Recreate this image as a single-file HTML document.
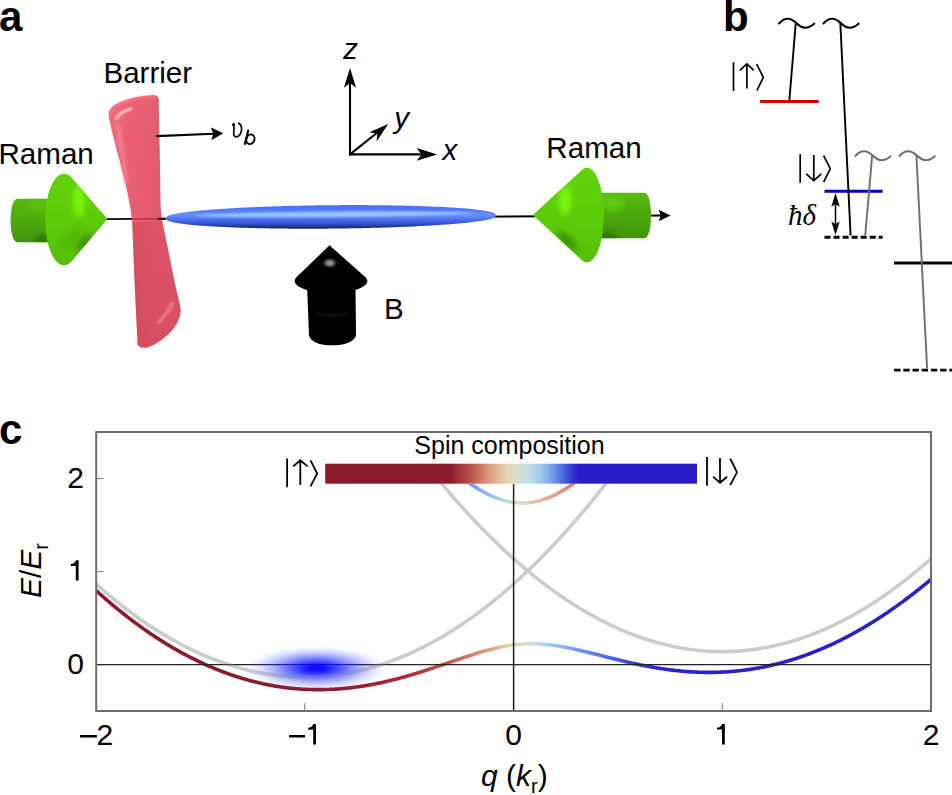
<!DOCTYPE html>
<html><head><meta charset="utf-8"><title>Figure</title>
<style>
html,body{margin:0;padding:0;background:#fff;}
body{width:952px;height:795px;overflow:hidden;}
svg{display:block;}
text{font-family:"Liberation Sans",sans-serif;fill:#000;}
.it{font-style:italic;}
.bd{font-weight:bold;}
</style></head>
<body>
<svg width="952" height="795" viewBox="0 0 952 795">
<defs>
<linearGradient id="gCylL" x1="0" y1="0" x2="0" y2="1">
<stop offset="0" stop-color="#58b810"/>
<stop offset="0.35" stop-color="#52b00e"/>
<stop offset="0.75" stop-color="#47a00c"/>
<stop offset="1" stop-color="#3e900a"/>
</linearGradient>
<linearGradient id="gCylR" x1="0" y1="0" x2="0" y2="1">
<stop offset="0" stop-color="#58bc10"/>
<stop offset="0.35" stop-color="#50ae0e"/>
<stop offset="0.75" stop-color="#46a00c"/>
<stop offset="1" stop-color="#3e900a"/>
</linearGradient>
<linearGradient id="gConeL" x1="0" y1="0" x2="0" y2="1">
<stop offset="0" stop-color="#62d20a"/>
<stop offset="0.5" stop-color="#5ccc08"/>
<stop offset="1" stop-color="#56c008"/>
</linearGradient>
<linearGradient id="gConeR" x1="0" y1="0" x2="0" y2="1">
<stop offset="0" stop-color="#62d20a"/>
<stop offset="0.5" stop-color="#5ccc08"/>
<stop offset="1" stop-color="#56c008"/>
</linearGradient>
<linearGradient id="gBar1" x1="0" y1="0" x2="1" y2="0">
<stop offset="0" stop-color="#ee6676"/>
<stop offset="0.35" stop-color="#e65a6c"/>
<stop offset="1" stop-color="#de5266"/>
</linearGradient>
<linearGradient id="gBar3" gradientUnits="userSpaceOnUse" x1="132" y1="0" x2="182" y2="0">
<stop offset="0" stop-color="#a02038" stop-opacity="0.24"/>
<stop offset="0.45" stop-color="#b02840" stop-opacity="0.1"/>
<stop offset="1" stop-color="#b02840" stop-opacity="0.04"/>
</linearGradient>
<linearGradient id="gBar2" x1="0" y1="0" x2="0" y2="1">
<stop offset="0" stop-color="#ff7080" stop-opacity="0.15"/>
<stop offset="0.4" stop-color="#e05068" stop-opacity="0"/>
<stop offset="0.6" stop-color="#c83850" stop-opacity="0.08"/>
<stop offset="1" stop-color="#c03048" stop-opacity="0.22"/>
</linearGradient>
<linearGradient id="gBEC" x1="0" y1="0" x2="0" y2="1">
<stop offset="0" stop-color="#4a72f8"/>
<stop offset="0.15" stop-color="#4c74f6"/>
<stop offset="0.3" stop-color="#5a84f8"/>
<stop offset="0.4" stop-color="#6890fa"/>
<stop offset="0.5" stop-color="#5c84f6"/>
<stop offset="0.62" stop-color="#4a6ef2"/>
<stop offset="0.74" stop-color="#3a5ad8"/>
<stop offset="0.85" stop-color="#2a44b0"/>
<stop offset="0.95" stop-color="#1c2a78"/>
<stop offset="1" stop-color="#1a2870"/>
</linearGradient>
<radialGradient id="gHl" cx="0.5" cy="0.5" r="0.5">
<stop offset="0" stop-color="#a0a0a0"/>
<stop offset="0.35" stop-color="#808080"/>
<stop offset="0.7" stop-color="#303030"/>
<stop offset="1" stop-color="#000000"/>
</radialGradient>
<filter id="fBlur1" x="-50%" y="-50%" width="200%" height="200%"><feGaussianBlur stdDeviation="0.8"/></filter>
<filter id="fBlur2" x="-50%" y="-50%" width="200%" height="200%"><feGaussianBlur stdDeviation="1.6"/></filter>
<filter id="fBlur3" x="-80%" y="-80%" width="260%" height="260%"><feGaussianBlur stdDeviation="3"/></filter>
<clipPath id="cpConeL"><path d="M107.60,219.10 L72.34,260.83 L70.53,262.70 L68.65,264.10 L66.72,265.03 L64.76,265.46 L62.79,265.41 L60.83,264.86 L58.91,263.82 L57.05,262.31 L55.25,260.34 L53.55,257.92 L51.97,255.10 L50.51,251.90 L49.20,248.34 L48.05,244.48 L47.06,240.35 L46.26,235.99 L45.65,231.46 L45.24,226.80 L45.03,222.06 L45.02,217.29 L45.22,212.55 L45.62,207.88 L46.21,203.34 L47.00,198.96 L47.97,194.82 L49.11,190.93 L50.41,187.35 L51.86,184.12 L53.43,181.27 L55.13,178.83 L56.91,176.82 L58.77,175.27 L60.69,174.20 L62.65,173.62 L64.62,173.52 L66.58,173.93 L68.51,174.82 L70.40,176.19 L72.21,178.02 Z"/></clipPath>
<clipPath id="cpConeR"><path d="M532.60,215.10 L581.68,169.89 L583.26,168.66 L584.88,167.87 L586.53,167.52 L588.17,167.61 L589.81,168.15 L591.41,169.13 L592.98,170.54 L594.49,172.36 L595.93,174.58 L597.29,177.19 L598.55,180.14 L599.70,183.43 L600.73,187.01 L601.64,190.85 L602.41,194.92 L603.03,199.18 L603.50,203.58 L603.82,208.09 L603.98,212.67 L603.98,217.27 L603.82,221.85 L603.51,226.36 L603.04,230.77 L602.42,235.02 L601.65,239.10 L600.75,242.94 L599.72,246.53 L598.57,249.81 L597.31,252.77 L595.95,255.38 L594.51,257.61 L593.00,259.44 L591.44,260.85 L589.83,261.84 L588.19,262.38 L586.55,262.48 L584.91,262.14 L583.28,261.35 L581.70,260.13 Z"/></clipPath>
<linearGradient id="gLow" gradientUnits="userSpaceOnUse" x1="0" y1="0" x2="952" y2="0">
<stop offset="0.0000" stop-color="#8c1a2c"/>
<stop offset="0.3361" stop-color="#8c1a2c"/>
<stop offset="0.3782" stop-color="#981e30"/>
<stop offset="0.4202" stop-color="#a62838"/>
<stop offset="0.4464" stop-color="#b43a44"/>
<stop offset="0.4716" stop-color="#c45850"/>
<stop offset="0.5032" stop-color="#d98a72"/>
<stop offset="0.5210" stop-color="#e2b092"/>
<stop offset="0.5336" stop-color="#e5cca8"/>
<stop offset="0.5494" stop-color="#dcdcc2"/>
<stop offset="0.5651" stop-color="#c0dce2"/>
<stop offset="0.5798" stop-color="#98c4f0"/>
<stop offset="0.5987" stop-color="#80a8f0"/>
<stop offset="0.6303" stop-color="#5474e6"/>
<stop offset="0.6723" stop-color="#3038d6"/>
<stop offset="0.7038" stop-color="#2a22c8"/>
<stop offset="1.0000" stop-color="#2a22c8"/>
</linearGradient>
<linearGradient id="gUp" gradientUnits="userSpaceOnUse" x1="460" y1="0" x2="580" y2="0">
<stop offset="0" stop-color="#5a88f0"/>
<stop offset="0.0917" stop-color="#6a98f0"/>
<stop offset="0.225" stop-color="#90b8ec"/>
<stop offset="0.3417" stop-color="#b0d4e0"/>
<stop offset="0.4417" stop-color="#c8dcd0"/>
<stop offset="0.55" stop-color="#dcd8b8"/>
<stop offset="0.6833" stop-color="#e4b898"/>
<stop offset="0.8" stop-color="#e09c80"/>
<stop offset="0.9333" stop-color="#d88468"/>
<stop offset="1" stop-color="#d07860"/>
</linearGradient>
<linearGradient id="gBar" gradientUnits="userSpaceOnUse" x1="325" y1="0" x2="697" y2="0">
<stop offset="0" stop-color="#8a1a2e"/>
<stop offset="0.3333" stop-color="#8a1a2e"/>
<stop offset="0.3593" stop-color="#a0303a"/>
<stop offset="0.3989" stop-color="#c05a55"/>
<stop offset="0.4301" stop-color="#d88a75"/>
<stop offset="0.4624" stop-color="#e3b595"/>
<stop offset="0.4860" stop-color="#e5cfb0"/>
<stop offset="0.5097" stop-color="#dcdcc8"/>
<stop offset="0.5414" stop-color="#c8e0e0"/>
<stop offset="0.5726" stop-color="#a8d0ec"/>
<stop offset="0.6048" stop-color="#80a8ee"/>
<stop offset="0.6360" stop-color="#5070e0"/>
<stop offset="0.6677" stop-color="#3030d0"/>
<stop offset="0.6876" stop-color="#2a1cc8"/>
<stop offset="1" stop-color="#2a1cc8"/>
</linearGradient>
<radialGradient id="gBlob" cx="0.5" cy="0.5" r="0.5">
<stop offset="0" stop-color="#0000ff" stop-opacity="0.97"/>
<stop offset="0.12" stop-color="#0000ff" stop-opacity="0.93"/>
<stop offset="0.3" stop-color="#0a10ff" stop-opacity="0.75"/>
<stop offset="0.5" stop-color="#1824ff" stop-opacity="0.5"/>
<stop offset="0.7" stop-color="#3040ff" stop-opacity="0.27"/>
<stop offset="0.87" stop-color="#5060ff" stop-opacity="0.1"/>
<stop offset="1" stop-color="#8090ff" stop-opacity="0"/>
</radialGradient>
</defs>
<rect width="952" height="795" fill="#fff"/>

<!-- PANEL A -->
<g id="pa">
<text x="-1" y="31" class="bd" font-size="42">a</text>
<!-- main axis line -->
<line x1="100" y1="219.2" x2="662" y2="215.5" stroke="#000" stroke-width="1.8"/>
<path d="M670.6,215.5 L658.6,209.7 L660.8,215.5 L658.6,221.3 Z" fill="#000"/>
<!-- left Raman: cylinder -->
<clipPath id="cpCylL"><path d="M50,198.7 L17.5,198.7 C13,198.7 10.6,209 10.6,220.4 C10.6,232 13,242.2 17.5,242.2 L50,242.2 Z"/></clipPath>
<g clip-path="url(#cpCylL)">
<rect x="0" y="195" width="60" height="50" fill="url(#gCylL)"/>
<ellipse cx="38" cy="205" rx="10" ry="6" fill="#62c812" opacity="0.7" filter="url(#fBlur3)"/>
<ellipse cx="43" cy="240" rx="8" ry="5" fill="#2a6406" opacity="0.75" filter="url(#fBlur3)"/>
</g>
<!-- left cone -->
<g clip-path="url(#cpConeL)">
<path d="M107.60,219.10 L72.34,260.83 L70.53,262.70 L68.65,264.10 L66.72,265.03 L64.76,265.46 L62.79,265.41 L60.83,264.86 L58.91,263.82 L57.05,262.31 L55.25,260.34 L53.55,257.92 L51.97,255.10 L50.51,251.90 L49.20,248.34 L48.05,244.48 L47.06,240.35 L46.26,235.99 L45.65,231.46 L45.24,226.80 L45.03,222.06 L45.02,217.29 L45.22,212.55 L45.62,207.88 L46.21,203.34 L47.00,198.96 L47.97,194.82 L49.11,190.93 L50.41,187.35 L51.86,184.12 L53.43,181.27 L55.13,178.83 L56.91,176.82 L58.77,175.27 L60.69,174.20 L62.65,173.62 L64.62,173.52 L66.58,173.93 L68.51,174.82 L70.40,176.19 L72.21,178.02 Z" fill="url(#gConeL)"/>
<ellipse cx="79" cy="201" rx="5.5" ry="17" fill="#7cfa10" filter="url(#fBlur3)" opacity="0.95"/>
<ellipse cx="84.3" cy="241.8" rx="2.6" ry="11" fill="#2a6606" transform="rotate(42 84.3 241.8)" filter="url(#fBlur3)" opacity="0.9"/>
<ellipse cx="72" cy="238" rx="5" ry="14" fill="#3f9606" transform="rotate(42 72 238)" filter="url(#fBlur3)" opacity="0.35"/>
</g>
<!-- barrier -->
<path d="M108.6,115 C108.8,108 114,104.5 122,101.4 C132,97.7 143,95.3 153,95.2 C156.5,95.2 158.6,96.2 158.7,99.5 L159.9,160 L160.6,205 C161,212 161.6,217 162.6,222.5 L167.5,246.5 L174.8,283 L180.3,306.7 C181.8,314 178.5,323 171.5,331 C164.5,338.5 156,344.8 148,347.2 C144,348.2 140,347.8 138.3,345.5 C137.6,344.5 137.5,343.5 137.5,342 L134.6,283 L132.2,222 C130.5,205 126.5,187 122,170 C117,150 111,130 108.6,115 Z" fill="url(#gBar1)" opacity="0.97"/>
<path d="M108.6,115 C108.8,108 114,104.5 122,101.4 C132,97.7 143,95.3 153,95.2 C156.5,95.2 158.6,96.2 158.7,99.5 L159.9,160 L160.6,205 C161,212 161.6,217 162.6,222.5 L167.5,246.5 L174.8,283 L180.3,306.7 C181.8,314 178.5,323 171.5,331 C164.5,338.5 156,344.8 148,347.2 C144,348.2 140,347.8 138.3,345.5 C137.6,344.5 137.5,343.5 137.5,342 L134.6,283 L132.2,222 C130.5,205 126.5,187 122,170 C117,150 111,130 108.6,115 Z" fill="url(#gBar2)"/>
<path d="M110.5,112.5 C114,106.5 120,103.5 127,101 C137,97.8 147,96.6 155.5,97" stroke="#ff7486" stroke-width="2.4" fill="none" stroke-linecap="round" filter="url(#fBlur1)" opacity="0.85"/>
<path d="M116,118.5 C119.5,113.5 125,110.5 131,108.8" stroke="#ffd0d6" stroke-width="2.6" fill="none" stroke-linecap="round" filter="url(#fBlur1)"/>
<path d="M118,125 L126,180" stroke="#f88898" stroke-width="4" fill="none" stroke-linecap="round" filter="url(#fBlur2)" opacity="0.8"/>
<clipPath id="cpBarLow"><rect x="100" y="222" width="100" height="130"/></clipPath>
<path d="M108.6,115 C108.8,108 114,104.5 122,101.4 C132,97.7 143,95.3 153,95.2 C156.5,95.2 158.6,96.2 158.7,99.5 L159.9,160 L160.6,205 C161,212 161.6,217 162.6,222.5 L167.5,246.5 L174.8,283 L180.3,306.7 C181.8,314 178.5,323 171.5,331 C164.5,338.5 156,344.8 148,347.2 C144,348.2 140,347.8 138.3,345.5 C137.6,344.5 137.5,343.5 137.5,342 L134.6,283 L132.2,222 C130.5,205 126.5,187 122,170 C117,150 111,130 108.6,115 Z" fill="url(#gBar3)" clip-path="url(#cpBarLow)"/>
<path d="M172.5,303 C169.5,310 165,316 158.5,322.5" stroke="#f27a8a" stroke-width="3.2" fill="none" stroke-linecap="round" filter="url(#fBlur1)"/>
<line x1="132" y1="219" x2="158" y2="218.8" stroke="#a02838" stroke-width="1.6" opacity="0.6"/>
<!-- front part of line (right of barrier) -->
<line x1="158" y1="218.8" x2="166" y2="218.7" stroke="#000" stroke-width="1.8"/>
<!-- BEC -->
<path d="M165.01,218.44 L167.75,215.97 L170.51,215.04 L173.27,214.35 L176.03,213.77 L178.79,213.28 L181.56,212.83 L184.32,212.43 L187.08,212.06 L189.85,211.72 L192.61,211.40 L195.37,211.10 L198.14,210.82 L200.90,210.55 L203.67,210.29 L206.43,210.05 L209.20,209.82 L211.96,209.60 L214.73,209.39 L217.49,209.19 L220.26,209.00 L223.02,208.81 L225.79,208.63 L228.55,208.46 L231.32,208.29 L234.08,208.13 L236.85,207.98 L239.61,207.83 L242.38,207.69 L245.14,207.55 L247.91,207.42 L250.67,207.29 L253.44,207.17 L256.21,207.05 L258.97,206.93 L261.74,206.82 L264.50,206.72 L267.27,206.61 L270.03,206.52 L272.80,206.42 L275.57,206.33 L278.33,206.24 L281.10,206.16 L283.86,206.08 L286.63,206.00 L289.40,205.93 L292.16,205.86 L294.93,205.79 L297.70,205.73 L300.46,205.66 L303.23,205.61 L305.99,205.55 L308.76,205.50 L311.53,205.45 L314.29,205.41 L317.06,205.37 L319.83,205.33 L322.59,205.29 L325.36,205.26 L328.13,205.23 L330.89,205.20 L333.66,205.18 L336.42,205.16 L339.19,205.14 L341.96,205.12 L344.72,205.11 L347.49,205.10 L350.26,205.09 L353.03,205.09 L355.79,205.09 L358.56,205.10 L361.33,205.10 L364.09,205.11 L366.86,205.12 L369.63,205.14 L372.39,205.16 L375.16,205.18 L377.93,205.21 L380.69,205.24 L383.46,205.27 L386.23,205.31 L389.00,205.35 L391.76,205.39 L394.53,205.44 L397.30,205.49 L400.06,205.54 L402.83,205.60 L405.60,205.67 L408.37,205.73 L411.13,205.81 L413.90,205.88 L416.67,205.96 L419.44,206.05 L422.20,206.14 L424.97,206.24 L427.74,206.34 L430.51,206.45 L433.28,206.56 L436.04,206.69 L438.81,206.81 L441.58,206.95 L444.35,207.09 L447.12,207.24 L449.88,207.40 L452.65,207.57 L455.42,207.75 L458.19,207.94 L460.96,208.14 L463.73,208.36 L466.50,208.59 L469.26,208.84 L472.03,209.11 L474.80,209.40 L477.57,209.72 L480.34,210.07 L483.11,210.46 L485.88,210.91 L488.66,211.43 L491.43,212.08 L494.20,212.95 L496.99,215.36 L496.99,215.36 L494.25,217.83 L491.49,218.76 L488.73,219.45 L485.97,220.03 L483.21,220.52 L480.44,220.97 L477.68,221.37 L474.92,221.74 L472.15,222.08 L469.39,222.40 L466.63,222.70 L463.86,222.98 L461.10,223.25 L458.33,223.51 L455.57,223.75 L452.80,223.98 L450.04,224.20 L447.27,224.41 L444.51,224.61 L441.74,224.80 L438.98,224.99 L436.21,225.17 L433.45,225.34 L430.68,225.51 L427.92,225.67 L425.15,225.82 L422.39,225.97 L419.62,226.11 L416.86,226.25 L414.09,226.38 L411.33,226.51 L408.56,226.63 L405.79,226.75 L403.03,226.87 L400.26,226.98 L397.50,227.08 L394.73,227.19 L391.97,227.28 L389.20,227.38 L386.43,227.47 L383.67,227.56 L380.90,227.64 L378.14,227.72 L375.37,227.80 L372.60,227.87 L369.84,227.94 L367.07,228.01 L364.30,228.07 L361.54,228.14 L358.77,228.19 L356.01,228.25 L353.24,228.30 L350.47,228.35 L347.71,228.39 L344.94,228.43 L342.17,228.47 L339.41,228.51 L336.64,228.54 L333.87,228.57 L331.11,228.60 L328.34,228.62 L325.58,228.64 L322.81,228.66 L320.04,228.68 L317.28,228.69 L314.51,228.70 L311.74,228.71 L308.97,228.71 L306.21,228.71 L303.44,228.70 L300.67,228.70 L297.91,228.69 L295.14,228.68 L292.37,228.66 L289.61,228.64 L286.84,228.62 L284.07,228.59 L281.31,228.56 L278.54,228.53 L275.77,228.49 L273.00,228.45 L270.24,228.41 L267.47,228.36 L264.70,228.31 L261.94,228.26 L259.17,228.20 L256.40,228.13 L253.63,228.07 L250.87,227.99 L248.10,227.92 L245.33,227.84 L242.56,227.75 L239.80,227.66 L237.03,227.56 L234.26,227.46 L231.49,227.35 L228.72,227.24 L225.96,227.11 L223.19,226.99 L220.42,226.85 L217.65,226.71 L214.88,226.56 L212.12,226.40 L209.35,226.23 L206.58,226.05 L203.81,225.86 L201.04,225.66 L198.27,225.44 L195.50,225.21 L192.74,224.96 L189.97,224.69 L187.20,224.40 L184.43,224.08 L181.66,223.73 L178.89,223.34 L176.12,222.89 L173.34,222.37 L170.57,221.72 L167.80,220.85 L165.01,218.44Z" fill="url(#gBEC)"/>
<path d="M194.98,215.60 L197.31,215.24 L199.64,215.05 L201.98,214.89 L204.31,214.75 L206.64,214.62 L208.97,214.51 L211.30,214.40 L213.64,214.29 L215.97,214.20 L218.30,214.10 L220.64,214.01 L222.97,213.93 L225.30,213.85 L227.63,213.77 L229.97,213.69 L232.30,213.61 L234.63,213.54 L236.96,213.47 L239.30,213.40 L241.63,213.34 L243.96,213.27 L246.30,213.21 L248.63,213.15 L250.96,213.09 L253.29,213.03 L255.63,212.97 L257.96,212.92 L260.29,212.86 L262.63,212.81 L264.96,212.76 L267.29,212.71 L269.62,212.66 L271.96,212.61 L274.29,212.57 L276.62,212.52 L278.96,212.48 L281.29,212.43 L283.62,212.39 L285.96,212.35 L288.29,212.31 L290.62,212.27 L292.96,212.23 L295.29,212.19 L297.62,212.16 L299.95,212.12 L302.29,212.09 L304.62,212.05 L306.95,212.02 L309.29,211.99 L311.62,211.96 L313.95,211.93 L316.29,211.90 L318.62,211.87 L320.95,211.85 L323.29,211.82 L325.62,211.79 L327.95,211.77 L330.29,211.75 L332.62,211.72 L334.95,211.70 L337.29,211.68 L339.62,211.66 L341.95,211.64 L344.28,211.62 L346.62,211.60 L348.95,211.59 L351.28,211.57 L353.62,211.56 L355.95,211.54 L358.28,211.53 L360.62,211.52 L362.95,211.50 L365.28,211.49 L367.62,211.48 L369.95,211.48 L372.28,211.47 L374.62,211.46 L376.95,211.45 L379.28,211.45 L381.62,211.45 L383.95,211.44 L386.29,211.44 L388.62,211.44 L390.95,211.44 L393.29,211.44 L395.62,211.44 L397.95,211.45 L400.29,211.45 L402.62,211.46 L404.95,211.46 L407.29,211.47 L409.62,211.48 L411.95,211.49 L414.29,211.51 L416.62,211.52 L418.95,211.53 L421.29,211.55 L423.62,211.57 L425.95,211.59 L428.29,211.61 L430.62,211.63 L432.96,211.66 L435.29,211.68 L437.62,211.71 L439.96,211.75 L442.29,211.78 L444.62,211.82 L446.96,211.86 L449.29,211.90 L451.63,211.94 L453.96,211.99 L456.29,212.05 L458.63,212.11 L460.96,212.17 L463.30,212.25 L465.63,212.33 L467.96,212.43 L470.30,212.54 L472.63,212.69 L474.97,213.01 L474.97,213.01 L472.64,213.36 L470.31,213.56 L467.98,213.71 L465.64,213.85 L463.31,213.98 L460.98,214.09 L458.65,214.20 L456.31,214.31 L453.98,214.40 L451.65,214.50 L449.32,214.59 L446.98,214.67 L444.65,214.76 L442.32,214.83 L439.99,214.91 L437.65,214.99 L435.32,215.06 L432.99,215.13 L430.66,215.20 L428.32,215.26 L425.99,215.33 L423.66,215.39 L421.32,215.45 L418.99,215.51 L416.66,215.57 L414.32,215.63 L411.99,215.68 L409.66,215.74 L407.33,215.79 L404.99,215.84 L402.66,215.89 L400.33,215.94 L397.99,215.99 L395.66,216.03 L393.33,216.08 L391.00,216.12 L388.66,216.17 L386.33,216.21 L384.00,216.25 L381.66,216.29 L379.33,216.33 L377.00,216.37 L374.66,216.41 L372.33,216.44 L370.00,216.48 L367.66,216.51 L365.33,216.55 L363.00,216.58 L360.67,216.61 L358.33,216.64 L356.00,216.67 L353.67,216.70 L351.33,216.73 L349.00,216.75 L346.67,216.78 L344.33,216.81 L342.00,216.83 L339.67,216.86 L337.33,216.88 L335.00,216.90 L332.67,216.92 L330.33,216.94 L328.00,216.96 L325.67,216.98 L323.33,217.00 L321.00,217.01 L318.67,217.03 L316.33,217.04 L314.00,217.06 L311.67,217.07 L309.33,217.08 L307.00,217.10 L304.67,217.11 L302.33,217.12 L300.00,217.13 L297.67,217.13 L295.33,217.14 L293.00,217.15 L290.67,217.15 L288.33,217.15 L286.00,217.16 L283.67,217.16 L281.33,217.16 L279.00,217.16 L276.67,217.16 L274.33,217.16 L272.00,217.15 L269.67,217.15 L267.33,217.14 L265.00,217.14 L262.67,217.13 L260.33,217.12 L258.00,217.11 L255.67,217.09 L253.33,217.08 L251.00,217.07 L248.66,217.05 L246.33,217.03 L244.00,217.01 L241.66,216.99 L239.33,216.97 L237.00,216.94 L234.66,216.92 L232.33,216.89 L230.00,216.85 L227.66,216.82 L225.33,216.78 L222.99,216.74 L220.66,216.70 L218.33,216.66 L215.99,216.61 L213.66,216.55 L211.32,216.49 L208.99,216.43 L206.66,216.35 L204.32,216.27 L201.99,216.17 L199.65,216.06 L197.32,215.91 L194.98,215.60Z" fill="#9ccafc" filter="url(#fBlur1)" opacity="0.95"/>
<!-- right Raman -->
<clipPath id="cpCylR"><path d="M596,192.8 L644.5,192.8 C648.5,192.8 651,203 651,215.5 C651,228 648.5,238.2 644.5,238.2 L596,238.2 Z"/></clipPath>
<g clip-path="url(#cpCylR)">
<rect x="590" y="190" width="65" height="50" fill="url(#gCylR)"/>
<ellipse cx="612" cy="203" rx="13" ry="8" fill="#62cc12" opacity="0.9" filter="url(#fBlur3)"/>
<ellipse cx="608" cy="237" rx="9" ry="5" fill="#2a6406" opacity="0.75" filter="url(#fBlur3)"/>
</g>
<g clip-path="url(#cpConeR)">
<path d="M532.60,215.10 L581.68,169.89 L583.26,168.66 L584.88,167.87 L586.53,167.52 L588.17,167.61 L589.81,168.15 L591.41,169.13 L592.98,170.54 L594.49,172.36 L595.93,174.58 L597.29,177.19 L598.55,180.14 L599.70,183.43 L600.73,187.01 L601.64,190.85 L602.41,194.92 L603.03,199.18 L603.50,203.58 L603.82,208.09 L603.98,212.67 L603.98,217.27 L603.82,221.85 L603.51,226.36 L603.04,230.77 L602.42,235.02 L601.65,239.10 L600.75,242.94 L599.72,246.53 L598.57,249.81 L597.31,252.77 L595.95,255.38 L594.51,257.61 L593.00,259.44 L591.44,260.85 L589.83,261.84 L588.19,262.38 L586.55,262.48 L584.91,262.14 L583.28,261.35 L581.70,260.13 Z" fill="url(#gConeR)"/>
<ellipse cx="565" cy="201" rx="6" ry="15" fill="#7cfa10" filter="url(#fBlur3)" opacity="0.95"/>
<ellipse cx="567" cy="240.5" rx="3" ry="13" fill="#2a6606" transform="rotate(-47 567 240.5)" filter="url(#fBlur3)" opacity="0.85"/>
</g>
<!-- B arrow -->
<path d="M307.2,290 L309,335 C310,342 320,345.3 332,345.3 C344,345.3 355,342 356,335 L355.5,290 Z" fill="#000"/>
<path d="M329.50,245.30 L365.02,276.81 L366.09,277.93 L366.83,279.08 L367.23,280.25 L367.28,281.43 L366.97,282.60 L366.33,283.76 L365.34,284.89 L364.02,285.98 L362.38,287.03 L360.45,288.02 L358.22,288.94 L355.74,289.78 L353.02,290.54 L350.09,291.21 L346.97,291.78 L343.70,292.24 L340.30,292.60 L336.82,292.84 L333.28,292.98 L329.72,292.99 L326.18,292.89 L322.67,292.68 L319.25,292.35 L315.94,291.92 L312.78,291.38 L309.79,290.74 L307.01,290.01 L304.45,289.18 L302.16,288.29 L300.14,287.32 L298.41,286.29 L297.00,285.21 L295.92,284.08 L295.17,282.93 L294.77,281.76 L294.72,280.59 L295.02,279.41 L295.66,278.26 L296.65,277.12 Z" fill="#000"/>
<ellipse cx="329.8" cy="263" rx="8" ry="5.5" fill="url(#gHl)"/>
<path d="M316,313.5 C324,316 340,316 348,313.5" stroke="#2a2a2a" stroke-width="1" fill="none" filter="url(#fBlur1)"/>
<!-- coordinate axes -->
<g stroke="#000" stroke-width="2.1" fill="none">
<line x1="350" y1="155.4" x2="350" y2="80"/>
<line x1="349" y1="154.4" x2="425" y2="154.4"/>
<line x1="350" y1="154.4" x2="378" y2="132"/>
<line x1="156.3" y1="136.1" x2="214" y2="133.7"/>
</g>
<path d="M350,68 L356.1,87.7 L350,83 L343.9,87.7 Z" fill="#000"/>
<path d="M437.2,154.4 L416.7,148 L421.5,154.4 L416.7,160.8 Z" fill="#000"/>
<path d="M388.2,124 L376.6,141.4 L377.3,133.6 L369.3,132.2 Z" fill="#000"/>
<path d="M223.3,133.3 L210.8,127.6 L213.4,133.8 L211.3,140.3 Z" fill="#000"/>
<!-- labels -->
<g font-size="29.6">
<text x="103.4" y="83.3">Barrier</text>
<text x="-1.6" y="163.9">Raman</text>
<text x="546.3" y="158.4">Raman</text>
<text x="384" y="318.6">B</text>
</g>
<g font-size="29.5">
<text x="343.2" y="58.7" class="it">z</text>
<text x="394.3" y="128.4" class="it">y</text>
<text x="442.6" y="160.1" class="it">x</text>
</g>
<g fill="none" stroke="#000" stroke-linecap="round">
<path d="M233.6,125.5 C234.2,127 234.3,128.5 233.8,131.5 C233.2,135 234.5,137 236.5,136.8 C239.5,136.5 242,132.5 241.6,128 C241.3,125 240.3,123.8 238.6,123.2" stroke-width="1.7"/>
<path d="M248.2,130.6 L244.9,144" stroke-width="2.1"/>
<ellipse cx="250.4" cy="139.3" rx="4.0" ry="4.9" transform="rotate(20 250.4 139.3)" stroke-width="1.9"/>
</g>
<ellipse cx="233.6" cy="124.8" rx="1.5" ry="1.8" fill="#000"/>
</g>

<!-- PANEL B -->
<g id="pb">
<text x="723" y="31" class="bd" font-size="42">b</text>
<g fill="none" stroke-linecap="round">
<!-- levels -->
<line x1="760.1" y1="101.4" x2="818.6" y2="101.4" stroke="#cc0000" stroke-width="3" stroke-linecap="butt"/>
<line x1="824.5" y1="191.2" x2="882.6" y2="191.2" stroke="#0000c8" stroke-width="3" stroke-linecap="butt"/>
<line x1="894.1" y1="262.9" x2="952" y2="262.9" stroke="#000" stroke-width="3" stroke-linecap="butt"/>
<line x1="824.5" y1="237.2" x2="882.6" y2="237.2" stroke="#000" stroke-width="2.9" stroke-dasharray="6 3.05" stroke-linecap="butt"/>
<line x1="894.1" y1="370.2" x2="952" y2="370.2" stroke="#000" stroke-width="2.7" stroke-dasharray="6.4 2.8" stroke-linecap="butt"/>
<!-- tildes + transitions -->
<path d="M779,23.5 C782.5,19.5 785,18.7 787.8,18.7 C791.5,18.7 793.5,20.5 795.8,22.5 C798.5,25.2 801.5,27.7 805.2,27.7 C809,27.7 811.5,26 814.2,23.7" stroke="#000" stroke-width="2.1"/>
<path d="M823.4,23.5 C826.9,19.5 829.4,18.7 832.2,18.7 C835.9,18.7 837.9,20.5 840.2,22.5 C842.9,25.2 845.9,27.7 849.6,27.7 C853.4,27.7 855.9,26 858.6,23.7" stroke="#000" stroke-width="2.1"/>
<path d="M855.4,155.9 C858.9,151.9 861.4,151.3 864.2,151.3 C867.9,151.3 869.9,153.1 872.2,155.1 C874.9,157.8 877.9,160.3 881.6,160.3 C885.4,160.3 887.9,158.6 890.6,156.3" stroke="#6e6e6e" stroke-width="2.1"/>
<path d="M899.6,155.9 C903.1,151.9 905.6,151.3 908.4,151.3 C912.1,151.3 914.1,153.1 916.4,155.1 C919.1,157.8 922.1,160.3 925.8,160.3 C929.6,160.3 932.1,158.6 934.8,156.3" stroke="#6e6e6e" stroke-width="2.1"/>
<line x1="795.8" y1="22.5" x2="789.4" y2="100" stroke="#000" stroke-width="1.9" stroke-linecap="butt"/>
<line x1="840.3" y1="22.5" x2="850.6" y2="235.5" stroke="#000" stroke-width="1.9" stroke-linecap="butt"/>
<line x1="872.2" y1="155.1" x2="865.2" y2="235.5" stroke="#6e6e6e" stroke-width="1.9" stroke-linecap="butt"/>
<line x1="916.4" y1="155.1" x2="927.1" y2="368.5" stroke="#6e6e6e" stroke-width="1.9" stroke-linecap="butt"/>
<!-- double arrow -->
<line x1="835.5" y1="200" x2="835.5" y2="228" stroke="#000" stroke-width="1.6" stroke-linecap="butt"/>
</g>
<path d="M835.5,192.9 L839.7,206.8 L835.5,204 L831.3,206.8 Z" fill="#000"/>
<path d="M835.5,234.9 L839.7,221.5 L835.5,224.2 L831.3,221.5 Z" fill="#000"/>
<!-- kets -->
<g fill="none" stroke="#000" stroke-width="1.7" stroke-linecap="butt" stroke-linejoin="miter">
<path d="M733.5,62.3 V91"/>
<path d="M746.9,64.3 V88.6 M739.7,70.4 L746.9,63.9 L753.8,70.4"/>
<path d="M756.7,64.2 L763.3,77.4 L756.9,90.5"/>
<path d="M800.2,154.2 V182.8"/>
<path d="M813.8,155 V180 M806.2,173.8 L813.8,180.6 L821.3,173.8"/>
<path d="M823.6,155.7 L830.3,168.7 L823.6,182.1"/>
</g>
<text x="788" y="224.6" style="font-family:'Liberation Serif',serif;font-style:italic;font-size:29px">&#295;&#948;</text>
</g>

<!-- PANEL C -->
<g id="pc">
<text x="-1" y="444" class="bd" font-size="42">c</text>
<clipPath id="plotclip"><rect x="97" y="433" width="833" height="277"/></clipPath>
<g clip-path="url(#plotclip)" fill="none" stroke-linejoin="round">
<path d="M96.00,584.03 L97.04,584.96 L98.09,585.88 L99.13,586.80 L100.18,587.72 L101.22,588.63 L102.26,589.53 L103.31,590.43 L104.35,591.33 L105.39,592.22 L106.44,593.10 L107.48,593.98 L108.53,594.86 L109.57,595.73 L110.61,596.60 L111.66,597.46 L112.70,598.32 L113.74,599.17 L114.79,600.02 L115.83,600.86 L116.88,601.70 L117.92,602.54 L118.96,603.37 L120.01,604.19 L121.05,605.01 L122.09,605.83 L123.14,606.64 L124.18,607.45 L125.23,608.25 L126.27,609.05 L127.31,609.84 L128.36,610.63 L129.40,611.41 L130.44,612.19 L131.49,612.97 L132.53,613.74 L133.57,614.50 L134.62,615.26 L135.66,616.02 L136.71,616.77 L137.75,617.51 L138.79,618.26 L139.84,618.99 L140.88,619.73 L141.93,620.45 L142.97,621.18 L144.01,621.89 L145.06,622.61 L146.10,623.32 L147.14,624.02 L148.19,624.72 L149.23,625.42 L150.27,626.11 L151.32,626.79 L152.36,627.47 L153.41,628.15 L154.45,628.82 L155.49,629.49 L156.54,630.15 L157.58,630.81 L158.62,631.46 L159.67,632.11 L160.71,632.76 L161.76,633.40 L162.80,634.03 L163.84,634.66 L164.89,635.29 L165.93,635.91 L166.98,636.52 L168.02,637.13 L169.06,637.74 L170.11,638.34 L171.15,638.94 L172.19,639.53 L173.24,640.12 L174.28,640.71 L175.32,641.28 L176.37,641.86 L177.41,642.43 L178.46,642.99 L179.50,643.55 L180.54,644.11 L181.59,644.66 L182.63,645.21 L183.68,645.75 L184.72,646.29 L185.76,646.82 L186.81,647.35 L187.85,647.87 L188.89,648.39 L189.94,648.90 L190.98,649.41 L192.02,649.92 L193.07,650.42 L194.11,650.91 L195.16,651.40 L196.20,651.89 L197.24,652.37 L198.29,652.84 L199.33,653.32 L200.38,653.78 L201.42,654.25 L202.46,654.70 L203.51,655.16 L204.55,655.61 L205.59,656.05 L206.64,656.49 L207.68,656.93 L208.73,657.36 L209.77,657.78 L210.81,658.20 L211.86,658.62 L212.90,659.03 L213.94,659.44 L214.99,659.84 L216.03,660.24 L217.07,660.63 L218.12,661.02 L219.16,661.40 L220.21,661.78 L221.25,662.15 L222.29,662.52 L223.34,662.89 L224.38,663.25 L225.43,663.60 L226.47,663.96 L227.51,664.30 L228.56,664.64 L229.60,664.98 L230.64,665.31 L231.69,665.64 L232.73,665.96 L233.78,666.28 L234.82,666.60 L235.86,666.91 L236.91,667.21 L237.95,667.51 L238.99,667.81 L240.04,668.10 L241.08,668.38 L242.13,668.66 L243.17,668.94 L244.21,669.21 L245.26,669.48 L246.30,669.74 L247.34,670.00 L248.39,670.25 L249.43,670.50 L250.48,670.75 L251.52,670.99 L252.56,671.22 L253.61,671.45 L254.65,671.68 L255.69,671.90 L256.74,672.11 L257.78,672.33 L258.83,672.53 L259.87,672.74 L260.91,672.93 L261.96,673.13 L263.00,673.31 L264.04,673.50 L265.09,673.68 L266.13,673.85 L267.18,674.02 L268.22,674.19 L269.26,674.35 L270.31,674.50 L271.35,674.65 L272.39,674.80 L273.44,674.94 L274.48,675.08 L275.52,675.21 L276.57,675.34 L277.61,675.46 L278.66,675.58 L279.70,675.69 L280.74,675.80 L281.79,675.91 L282.83,676.01 L283.88,676.10 L284.92,676.19 L285.96,676.28 L287.01,676.36 L288.05,676.44 L289.09,676.51 L290.14,676.58 L291.18,676.64 L292.23,676.70 L293.27,676.75 L294.31,676.80 L295.36,676.85 L296.40,676.89 L297.44,676.92 L298.49,676.95 L299.53,676.98 L300.57,677.00 L301.62,677.01 L302.66,677.02 L303.71,677.03 L304.75,677.03 L305.79,677.03 L306.84,677.02 L307.88,677.01 L308.93,677.00 L309.97,676.98 L311.01,676.95 L312.06,676.92 L313.10,676.89 L314.14,676.85 L315.19,676.80 L316.23,676.75 L317.27,676.70 L318.32,676.64 L319.36,676.58 L320.41,676.51 L321.45,676.44 L322.49,676.36 L323.54,676.28 L324.58,676.19 L325.62,676.10 L326.67,676.01 L327.71,675.91 L328.76,675.80 L329.80,675.69 L330.84,675.58 L331.89,675.46 L332.93,675.34 L333.98,675.21 L335.02,675.08 L336.06,674.94 L337.11,674.80 L338.15,674.65 L339.19,674.50 L340.24,674.35 L341.28,674.19 L342.32,674.02 L343.37,673.85 L344.41,673.68 L345.46,673.50 L346.50,673.31 L347.54,673.13 L348.59,672.93 L349.63,672.74 L350.67,672.53 L351.72,672.33 L352.76,672.11 L353.81,671.90 L354.85,671.68 L355.89,671.45 L356.94,671.22 L357.98,670.99 L359.02,670.75 L360.07,670.50 L361.11,670.25 L362.16,670.00 L363.20,669.74 L364.24,669.48 L365.29,669.21 L366.33,668.94 L367.38,668.66 L368.42,668.38 L369.46,668.10 L370.51,667.81 L371.55,667.51 L372.59,667.21 L373.64,666.91 L374.68,666.60 L375.73,666.28 L376.77,665.96 L377.81,665.64 L378.86,665.31 L379.90,664.98 L380.94,664.64 L381.99,664.30 L383.03,663.96 L384.08,663.60 L385.12,663.25 L386.16,662.89 L387.21,662.52 L388.25,662.15 L389.29,661.78 L390.34,661.40 L391.38,661.02 L392.42,660.63 L393.47,660.24 L394.51,659.84 L395.56,659.44 L396.60,659.03 L397.64,658.62 L398.69,658.20 L399.73,657.78 L400.77,657.36 L401.82,656.93 L402.86,656.49 L403.91,656.05 L404.95,655.61 L405.99,655.16 L407.04,654.70 L408.08,654.25 L409.12,653.78 L410.17,653.32 L411.21,652.84 L412.26,652.37 L413.30,651.89 L414.34,651.40 L415.39,650.91 L416.43,650.42 L417.48,649.92 L418.52,649.41 L419.56,648.90 L420.61,648.39 L421.65,647.87 L422.69,647.35 L423.74,646.82 L424.78,646.29 L425.83,645.75 L426.87,645.21 L427.91,644.66 L428.96,644.11 L430.00,643.55 L431.04,642.99 L432.09,642.43 L433.13,641.86 L434.18,641.28 L435.22,640.71 L436.26,640.12 L437.31,639.53 L438.35,638.94 L439.39,638.34 L440.44,637.74 L441.48,637.13 L442.53,636.52 L443.57,635.91 L444.61,635.29 L445.66,634.66 L446.70,634.03 L447.74,633.40 L448.79,632.76 L449.83,632.11 L450.88,631.46 L451.92,630.81 L452.96,630.15 L454.01,629.49 L455.05,628.82 L456.09,628.15 L457.14,627.47 L458.18,626.79 L459.23,626.11 L460.27,625.42 L461.31,624.72 L462.36,624.02 L463.40,623.32 L464.44,622.61 L465.49,621.89 L466.53,621.18 L467.57,620.45 L468.62,619.73 L469.66,618.99 L470.71,618.26 L471.75,617.51 L472.79,616.77 L473.84,616.02 L474.88,615.26 L475.93,614.50 L476.97,613.74 L478.01,612.97 L479.06,612.19 L480.10,611.41 L481.14,610.63 L482.19,609.84 L483.23,609.05 L484.28,608.25 L485.32,607.45 L486.36,606.64 L487.41,605.83 L488.45,605.01 L489.49,604.19 L490.54,603.37 L491.58,602.54 L492.62,601.70 L493.67,600.86 L494.71,600.02 L495.76,599.17 L496.80,598.32 L497.84,597.46 L498.89,596.60 L499.93,595.73 L500.97,594.86 L502.02,593.98 L503.06,593.10 L504.11,592.22 L505.15,591.33 L506.19,590.43 L507.24,589.53 L508.28,588.63 L509.32,587.72 L510.37,586.80 L511.41,585.88 L512.46,584.96 L513.50,584.03 L514.54,583.10 L515.59,582.16 L516.63,581.22 L517.67,580.28 L518.72,579.33 L519.76,578.37 L520.81,577.41 L521.85,576.45 L522.89,575.48 L523.94,574.50 L524.98,573.52 L526.02,572.54 L527.07,571.55 L528.11,570.56 L529.16,569.56 L530.20,568.56 L531.24,567.55 L532.29,566.54 L533.33,565.52 L534.38,564.50 L535.42,563.48 L536.46,562.45 L537.51,561.41 L538.55,560.37 L539.59,559.33 L540.64,558.28 L541.68,557.23 L542.73,556.17 L543.77,555.11 L544.81,554.04 L545.86,552.97 L546.90,551.89 L547.94,550.81 L548.99,549.73 L550.03,548.64 L551.08,547.54 L552.12,546.44 L553.16,545.34 L554.21,544.23 L555.25,543.11 L556.29,542.00 L557.34,540.87 L558.38,539.75 L559.43,538.61 L560.47,537.48 L561.51,536.33 L562.56,535.19 L563.60,534.04 L564.64,532.88 L565.69,531.72 L566.73,530.56 L567.78,529.39 L568.82,528.21 L569.86,527.03 L570.91,525.85 L571.95,524.66 L572.99,523.47 L574.04,522.27 L575.08,521.07 L576.12,519.86 L577.17,518.65 L578.21,517.44 L579.26,516.22 L580.30,514.99 L581.34,513.76 L582.39,512.53 L583.43,511.29 L584.47,510.04 L585.52,508.79 L586.56,507.54 L587.61,506.28 L588.65,505.02 L589.69,503.75 L590.74,502.48 L591.78,501.21 L592.82,499.92 L593.87,498.64 L594.91,497.35 L595.96,496.05 L597.00,494.75 L598.04,493.45 L599.09,492.14 L600.13,490.83 L601.17,489.51 L602.22,488.19 L603.26,486.86 L604.31,485.53 L605.35,484.19 L606.39,482.85 L607.44,481.50 L608.48,480.15 L609.52,478.80 L610.57,477.44 L611.61,476.07 L612.66,474.70 L613.70,473.33 L614.74,471.95 L615.79,470.56 L616.83,469.18 L617.88,467.78 L618.92,466.39 L619.96,464.98 L621.01,463.58 L622.05,462.17 L623.09,460.75 L624.14,459.33 L625.18,457.91 L626.23,456.48 L627.27,455.04 L628.31,453.60 L629.36,452.16 L630.40,450.71 L631.44,449.26 L632.49,447.80 L633.53,446.34 L634.58,444.87 L635.62,443.40 L636.66,441.92 L637.71,440.44 L638.75,438.95 L639.79,437.46 L640.84,435.97 L641.88,434.47 L642.92,432.96 L643.97,431.46 L645.01,429.94 L646.06,428.42 L647.10,426.90 L648.14,425.37 L649.19,423.84" stroke="#cccccc" stroke-width="3.6"/>
<path d="M395.56,423.86 L396.60,425.31 L397.64,426.76 L398.69,428.20 L399.73,429.64 L400.77,431.08 L401.82,432.51 L402.86,433.93 L403.91,435.35 L404.95,436.77 L405.99,438.18 L407.04,439.59 L408.08,440.99 L409.12,442.39 L410.17,443.78 L411.21,445.17 L412.26,446.55 L413.30,447.93 L414.34,449.30 L415.39,450.67 L416.43,452.04 L417.48,453.40 L418.52,454.75 L419.56,456.10 L420.61,457.45 L421.65,458.79 L422.69,460.13 L423.74,461.46 L424.78,462.79 L425.83,464.11 L426.87,465.43 L427.91,466.74 L428.96,468.05 L430.00,469.36 L431.04,470.66 L432.09,471.95 L433.13,473.24 L434.18,474.53 L435.22,475.81 L436.26,477.08 L437.31,478.36 L438.35,479.62 L439.39,480.89 L440.44,482.14 L441.48,483.40 L442.53,484.65 L443.57,485.89 L444.61,487.13 L445.66,488.36 L446.70,489.59 L447.74,490.82 L448.79,492.04 L449.83,493.25 L450.88,494.47 L451.92,495.67 L452.96,496.87 L454.01,498.07 L455.05,499.26 L456.09,500.45 L457.14,501.64 L458.18,502.81 L459.23,503.99 L460.27,505.16 L461.31,506.32 L462.36,507.48 L463.40,508.64 L464.44,509.79 L465.49,510.94 L466.53,512.08 L467.57,513.21 L468.62,514.35 L469.66,515.47 L470.71,516.60 L471.75,517.72 L472.79,518.83 L473.84,519.94 L474.88,521.04 L475.93,522.14 L476.97,523.24 L478.01,524.33 L479.06,525.41 L480.10,526.50 L481.14,527.57 L482.19,528.64 L483.23,529.71 L484.28,530.77 L485.32,531.83 L486.36,532.88 L487.41,533.93 L488.45,534.98 L489.49,536.02 L490.54,537.05 L491.58,538.08 L492.62,539.11 L493.67,540.13 L494.71,541.14 L495.76,542.15 L496.80,543.16 L497.84,544.16 L498.89,545.16 L499.93,546.15 L500.97,547.14 L502.02,548.12 L503.06,549.10 L504.11,550.08 L505.15,551.05 L506.19,552.01 L507.24,552.97 L508.28,553.93 L509.32,554.88 L510.37,555.82 L511.41,556.77 L512.46,557.70 L513.50,558.64 L514.54,559.56 L515.59,560.49 L516.63,561.40 L517.67,562.32 L518.72,563.23 L519.76,564.13 L520.81,565.03 L521.85,565.93 L522.89,566.82 L523.94,567.70 L524.98,568.58 L526.02,569.46 L527.07,570.33 L528.11,571.20 L529.16,572.06 L530.20,572.92 L531.24,573.77 L532.29,574.62 L533.33,575.47 L534.38,576.31 L535.42,577.14 L536.46,577.97 L537.51,578.80 L538.55,579.62 L539.59,580.43 L540.64,581.24 L541.68,582.05 L542.73,582.85 L543.77,583.65 L544.81,584.44 L545.86,585.23 L546.90,586.02 L547.94,586.79 L548.99,587.57 L550.03,588.34 L551.08,589.10 L552.12,589.86 L553.16,590.62 L554.21,591.37 L555.25,592.12 L556.29,592.86 L557.34,593.59 L558.38,594.33 L559.43,595.05 L560.47,595.78 L561.51,596.50 L562.56,597.21 L563.60,597.92 L564.64,598.62 L565.69,599.32 L566.73,600.02 L567.78,600.71 L568.82,601.39 L569.86,602.08 L570.91,602.75 L571.95,603.42 L572.99,604.09 L574.04,604.75 L575.08,605.41 L576.12,606.07 L577.17,606.71 L578.21,607.36 L579.26,608.00 L580.30,608.63 L581.34,609.26 L582.39,609.89 L583.43,610.51 L584.47,611.12 L585.52,611.74 L586.56,612.34 L587.61,612.95 L588.65,613.54 L589.69,614.14 L590.74,614.72 L591.78,615.31 L592.82,615.89 L593.87,616.46 L594.91,617.03 L595.96,617.60 L597.00,618.16 L598.04,618.71 L599.09,619.26 L600.13,619.81 L601.17,620.35 L602.22,620.89 L603.26,621.42 L604.31,621.95 L605.35,622.47 L606.39,622.99 L607.44,623.50 L608.48,624.01 L609.52,624.52 L610.57,625.02 L611.61,625.51 L612.66,626.00 L613.70,626.49 L614.74,626.97 L615.79,627.45 L616.83,627.92 L617.88,628.39 L618.92,628.85 L619.96,629.31 L621.01,629.76 L622.05,630.21 L623.09,630.65 L624.14,631.09 L625.18,631.53 L626.23,631.96 L627.27,632.38 L628.31,632.80 L629.36,633.22 L630.40,633.63 L631.44,634.04 L632.49,634.44 L633.53,634.84 L634.58,635.23 L635.62,635.62 L636.66,636.00 L637.71,636.38 L638.75,636.76 L639.79,637.13 L640.84,637.49 L641.88,637.85 L642.92,638.21 L643.97,638.56 L645.01,638.90 L646.06,639.25 L647.10,639.58 L648.14,639.92 L649.19,640.24 L650.23,640.57 L651.28,640.88 L652.32,641.20 L653.36,641.51 L654.41,641.81 L655.45,642.11 L656.49,642.41 L657.54,642.70 L658.58,642.98 L659.62,643.27 L660.67,643.54 L661.71,643.81 L662.76,644.08 L663.80,644.34 L664.84,644.60 L665.89,644.86 L666.93,645.10 L667.98,645.35 L669.02,645.59 L670.06,645.82 L671.11,646.05 L672.15,646.28 L673.19,646.50 L674.24,646.72 L675.28,646.93 L676.33,647.13 L677.37,647.34 L678.41,647.53 L679.46,647.73 L680.50,647.92 L681.54,648.10 L682.59,648.28 L683.63,648.45 L684.67,648.62 L685.72,648.79 L686.76,648.95 L687.81,649.10 L688.85,649.25 L689.89,649.40 L690.94,649.54 L691.98,649.68 L693.02,649.81 L694.07,649.94 L695.11,650.06 L696.16,650.18 L697.20,650.30 L698.24,650.41 L699.29,650.51 L700.33,650.61 L701.38,650.71 L702.42,650.80 L703.46,650.88 L704.51,650.96 L705.55,651.04 L706.59,651.11 L707.64,651.18 L708.68,651.24 L709.73,651.30 L710.77,651.35 L711.81,651.40 L712.86,651.45 L713.90,651.49 L714.94,651.52 L715.99,651.55 L717.03,651.58 L718.08,651.60 L719.12,651.61 L720.16,651.63 L721.21,651.63 L722.25,651.64 L723.29,651.63 L724.34,651.63 L725.38,651.61 L726.42,651.60 L727.47,651.58 L728.51,651.55 L729.56,651.52 L730.60,651.49 L731.64,651.45 L732.69,651.40 L733.73,651.35 L734.77,651.30 L735.82,651.24 L736.86,651.18 L737.91,651.11 L738.95,651.04 L739.99,650.96 L741.04,650.88 L742.08,650.80 L743.12,650.71 L744.17,650.61 L745.21,650.51 L746.26,650.41 L747.30,650.30 L748.34,650.18 L749.39,650.06 L750.43,649.94 L751.48,649.81 L752.52,649.68 L753.56,649.54 L754.61,649.40 L755.65,649.25 L756.69,649.10 L757.74,648.95 L758.78,648.79 L759.83,648.62 L760.87,648.45 L761.91,648.28 L762.96,648.10 L764.00,647.92 L765.04,647.73 L766.09,647.53 L767.13,647.34 L768.18,647.13 L769.22,646.93 L770.26,646.72 L771.31,646.50 L772.35,646.28 L773.39,646.05 L774.44,645.82 L775.48,645.59 L776.53,645.35 L777.57,645.10 L778.61,644.86 L779.66,644.60 L780.70,644.34 L781.74,644.08 L782.79,643.81 L783.83,643.54 L784.88,643.27 L785.92,642.98 L786.96,642.70 L788.01,642.41 L789.05,642.11 L790.09,641.81 L791.14,641.51 L792.18,641.20 L793.22,640.88 L794.27,640.57 L795.31,640.24 L796.36,639.92 L797.40,639.58 L798.44,639.25 L799.49,638.90 L800.53,638.56 L801.58,638.21 L802.62,637.85 L803.66,637.49 L804.71,637.13 L805.75,636.76 L806.79,636.38 L807.84,636.00 L808.88,635.62 L809.92,635.23 L810.97,634.84 L812.01,634.44 L813.06,634.04 L814.10,633.63 L815.14,633.22 L816.19,632.80 L817.23,632.38 L818.27,631.96 L819.32,631.53 L820.36,631.09 L821.41,630.65 L822.45,630.21 L823.49,629.76 L824.54,629.31 L825.58,628.85 L826.62,628.39 L827.67,627.92 L828.71,627.45 L829.76,626.97 L830.80,626.49 L831.84,626.00 L832.89,625.51 L833.93,625.02 L834.98,624.52 L836.02,624.01 L837.06,623.50 L838.11,622.99 L839.15,622.47 L840.19,621.95 L841.24,621.42 L842.28,620.89 L843.33,620.35 L844.37,619.81 L845.41,619.26 L846.46,618.71 L847.50,618.16 L848.54,617.60 L849.59,617.03 L850.63,616.46 L851.67,615.89 L852.72,615.31 L853.76,614.72 L854.81,614.14 L855.85,613.54 L856.89,612.95 L857.94,612.34 L858.98,611.74 L860.03,611.12 L861.07,610.51 L862.11,609.89 L863.16,609.26 L864.20,608.63 L865.24,608.00 L866.29,607.36 L867.33,606.71 L868.38,606.07 L869.42,605.41 L870.46,604.75 L871.51,604.09 L872.55,603.42 L873.59,602.75 L874.64,602.08 L875.68,601.39 L876.73,600.71 L877.77,600.02 L878.81,599.32 L879.86,598.62 L880.90,597.92 L881.94,597.21 L882.99,596.50 L884.03,595.78 L885.08,595.05 L886.12,594.33 L887.16,593.59 L888.21,592.86 L889.25,592.12 L890.29,591.37 L891.34,590.62 L892.38,589.86 L893.43,589.10 L894.47,588.34 L895.51,587.57 L896.56,586.79 L897.60,586.02 L898.64,585.23 L899.69,584.44 L900.73,583.65 L901.77,582.85 L902.82,582.05 L903.86,581.24 L904.91,580.43 L905.95,579.62 L906.99,578.80 L908.04,577.97 L909.08,577.14 L910.12,576.31 L911.17,575.47 L912.21,574.62 L913.26,573.77 L914.30,572.92 L915.34,572.06 L916.39,571.20 L917.43,570.33 L918.47,569.46 L919.52,568.58 L920.56,567.70 L921.61,566.82 L922.65,565.93 L923.69,565.03 L924.74,564.13 L925.78,563.23 L926.83,562.32 L927.87,561.40 L928.91,560.49 L929.96,559.56 L931.00,558.64" stroke="#cccccc" stroke-width="3.6"/>
<path d="M452.44,469.56 L452.96,470.02 L453.48,470.47 L454.01,470.92 L454.53,471.36 L455.05,471.80 L455.57,472.25 L456.09,472.68 L456.62,473.12 L457.14,473.55 L457.66,473.98 L458.18,474.41 L458.70,474.84 L459.23,475.26 L459.75,475.68 L460.27,476.10 L460.79,476.52 L461.31,476.93 L461.83,477.34 L462.36,477.75 L462.88,478.15 L463.40,478.55 L463.92,478.95 L464.44,479.35 L464.97,479.75 L465.49,480.14 L466.01,480.53 L466.53,480.91 L467.05,481.30 L467.57,481.68 L468.10,482.06 L468.62,482.43 L469.14,482.80 L469.66,483.17 L470.18,483.54 L470.71,483.90 L471.23,484.26 L471.75,484.62 L472.27,484.98 L472.79,485.33 L473.32,485.68 L473.84,486.03 L474.36,486.37 L474.88,486.71 L475.40,487.05 L475.93,487.38 L476.45,487.71 L476.97,488.04 L477.49,488.37 L478.01,488.69 L478.53,489.01 L479.06,489.32 L479.58,489.64 L480.10,489.95 L480.62,490.25 L481.14,490.55 L481.67,490.85 L482.19,491.15 L482.71,491.45 L483.23,491.74 L483.75,492.02 L484.27,492.31 L484.80,492.59 L485.32,492.86 L485.84,493.14 L486.36,493.41 L486.88,493.67 L487.41,493.94 L487.93,494.20 L488.45,494.45 L488.97,494.71 L489.49,494.96 L490.02,495.20 L490.54,495.45 L491.06,495.68 L491.58,495.92 L492.10,496.15 L492.62,496.38 L493.15,496.61 L493.67,496.83 L494.19,497.04 L494.71,497.26 L495.23,497.47 L495.76,497.67 L496.28,497.88 L496.80,498.08 L497.32,498.27 L497.84,498.46 L498.37,498.65 L498.89,498.84 L499.41,499.02 L499.93,499.19 L500.45,499.37 L500.98,499.53 L501.50,499.70 L502.02,499.86 L502.54,500.02 L503.06,500.17 L503.58,500.32 L504.11,500.47 L504.63,500.61 L505.15,500.74 L505.67,500.88 L506.19,501.01 L506.72,501.13 L507.24,501.26 L507.76,501.37 L508.28,501.49 L508.80,501.60 L509.32,501.70 L509.85,501.80 L510.37,501.90 L510.89,501.99 L511.41,502.08 L511.93,502.17 L512.46,502.25 L512.98,502.32 L513.50,502.40 L514.02,502.47 L514.54,502.53 L515.07,502.59 L515.59,502.65 L516.11,502.70 L516.63,502.74 L517.15,502.79 L517.67,502.83 L518.20,502.86 L518.72,502.89 L519.24,502.92 L519.76,502.94 L520.28,502.96 L520.81,502.97 L521.33,502.98 L521.85,502.99 L522.37,502.99 L522.89,502.99 L523.42,502.98 L523.94,502.97 L524.46,502.95 L524.98,502.93 L525.50,502.91 L526.02,502.88 L526.55,502.84 L527.07,502.81 L527.59,502.77 L528.11,502.72 L528.63,502.67 L529.16,502.62 L529.68,502.56 L530.20,502.49 L530.72,502.43 L531.24,502.36 L531.77,502.28 L532.29,502.20 L532.81,502.12 L533.33,502.03 L533.85,501.94 L534.38,501.84 L534.90,501.74 L535.42,501.64 L535.94,501.53 L536.46,501.41 L536.98,501.30 L537.51,501.17 L538.03,501.05 L538.55,500.92 L539.07,500.79 L539.59,500.65 L540.12,500.51 L540.64,500.36 L541.16,500.21 L541.68,500.05 L542.20,499.90 L542.73,499.73 L543.25,499.57 L543.77,499.40 L544.29,499.22 L544.81,499.04 L545.33,498.86 L545.86,498.67 L546.38,498.48 L546.90,498.29 L547.42,498.09 L547.94,497.89 L548.47,497.68 L548.99,497.47 L549.51,497.26 L550.03,497.04 L550.55,496.82 L551.08,496.59 L551.60,496.37 L552.12,496.13 L552.64,495.90 L553.16,495.65 L553.68,495.41 L554.21,495.16 L554.73,494.91 L555.25,494.66 L555.77,494.40 L556.29,494.13 L556.82,493.87 L557.34,493.60 L557.86,493.32 L558.38,493.05 L558.90,492.76 L559.42,492.48 L559.95,492.19 L560.47,491.90 L560.99,491.61 L561.51,491.31 L562.03,491.00 L562.56,490.70 L563.08,490.39 L563.60,490.08 L564.12,489.76 L564.64,489.44 L565.17,489.12 L565.69,488.79 L566.21,488.47 L566.73,488.13 L567.25,487.80 L567.77,487.46 L568.30,487.12 L568.82,486.77 L569.34,486.42 L569.86,486.07 L570.38,485.71 L570.91,485.35 L571.43,484.99 L571.95,484.63 L572.47,484.26 L572.99,483.89 L573.52,483.51 L574.04,483.14 L574.56,482.76 L575.08,482.37 L575.60,481.99 L576.12,481.60 L576.65,481.21 L577.17,480.81 L577.69,480.41 L578.21,480.01 L578.73,479.61 L579.26,479.20 L579.78,478.79 L580.30,478.38 L580.82,477.96 L581.34,477.54 L581.87,477.12 L582.39,476.70 L582.91,476.27 L583.43,475.84 L583.95,475.41 L584.48,474.97 L585.00,474.53 L585.52,474.09 L586.04,473.65 L586.56,473.20 L587.08,472.75 L587.61,472.30 L588.13,471.85 L588.65,471.39 L589.17,470.93 L589.69,470.47 L590.22,470.01 L590.74,469.54" stroke="url(#gUp)" stroke-width="3.6"/>
<path d="M96.00,590.48 L97.04,591.42 L98.09,592.36 L99.13,593.30 L100.18,594.23 L101.22,595.15 L102.26,596.07 L103.31,596.99 L104.35,597.90 L105.39,598.80 L106.44,599.71 L107.48,600.60 L108.53,601.50 L109.57,602.38 L110.61,603.27 L111.66,604.15 L112.70,605.02 L113.74,605.89 L114.79,606.76 L115.83,607.62 L116.88,608.47 L117.92,609.33 L118.96,610.17 L120.01,611.01 L121.05,611.85 L122.09,612.69 L123.14,613.52 L124.18,614.34 L125.23,615.16 L126.27,615.97 L127.31,616.79 L128.36,617.59 L129.40,618.39 L130.44,619.19 L131.49,619.98 L132.53,620.77 L133.57,621.55 L134.62,622.33 L135.66,623.11 L136.71,623.88 L137.75,624.64 L138.79,625.40 L139.84,626.16 L140.88,626.91 L141.93,627.66 L142.97,628.40 L144.01,629.14 L145.06,629.87 L146.10,630.60 L147.14,631.32 L148.19,632.04 L149.23,632.76 L150.27,633.47 L151.32,634.17 L152.36,634.87 L153.41,635.57 L154.45,636.26 L155.49,636.95 L156.54,637.63 L157.58,638.31 L158.62,638.99 L159.67,639.66 L160.71,640.32 L161.76,640.98 L162.80,641.64 L163.84,642.29 L164.89,642.94 L165.93,643.58 L166.98,644.22 L168.02,644.85 L169.06,645.48 L170.11,646.10 L171.15,646.72 L172.19,647.34 L173.24,647.95 L174.28,648.56 L175.32,649.16 L176.37,649.75 L177.41,650.35 L178.46,650.94 L179.50,651.52 L180.54,652.10 L181.59,652.67 L182.63,653.24 L183.68,653.81 L184.72,654.37 L185.76,654.93 L186.81,655.48 L187.85,656.03 L188.89,656.57 L189.94,657.11 L190.98,657.64 L192.02,658.17 L193.07,658.70 L194.11,659.22 L195.16,659.73 L196.20,660.24 L197.24,660.75 L198.29,661.25 L199.33,661.75 L200.38,662.25 L201.42,662.73 L202.46,663.22 L203.51,663.70 L204.55,664.18 L205.59,664.65 L206.64,665.11 L207.68,665.58 L208.73,666.03 L209.77,666.49 L210.81,666.94 L211.86,667.38 L212.90,667.82 L213.94,668.25 L214.99,668.69 L216.03,669.11 L217.07,669.53 L218.12,669.95 L219.16,670.36 L220.21,670.77 L221.25,671.18 L222.29,671.58 L223.34,671.97 L224.38,672.36 L225.43,672.75 L226.47,673.13 L227.51,673.51 L228.56,673.88 L229.60,674.25 L230.64,674.61 L231.69,674.97 L232.73,675.33 L233.78,675.68 L234.82,676.03 L235.86,676.37 L236.91,676.71 L237.95,677.04 L238.99,677.37 L240.04,677.69 L241.08,678.01 L242.13,678.33 L243.17,678.64 L244.21,678.95 L245.26,679.25 L246.30,679.55 L247.34,679.84 L248.39,680.13 L249.43,680.41 L250.48,680.69 L251.52,680.97 L252.56,681.24 L253.61,681.51 L254.65,681.77 L255.69,682.03 L256.74,682.28 L257.78,682.53 L258.83,682.78 L259.87,683.02 L260.91,683.25 L261.96,683.49 L263.00,683.71 L264.04,683.94 L265.09,684.16 L266.13,684.37 L267.18,684.58 L268.22,684.79 L269.26,684.99 L270.31,685.19 L271.35,685.38 L272.39,685.57 L273.44,685.75 L274.48,685.93 L275.52,686.11 L276.57,686.28 L277.61,686.45 L278.66,686.61 L279.70,686.77 L280.74,686.92 L281.79,687.07 L282.83,687.22 L283.88,687.36 L284.92,687.50 L285.96,687.63 L287.01,687.76 L288.05,687.88 L289.09,688.00 L290.14,688.12 L291.18,688.23 L292.23,688.34 L293.27,688.44 L294.31,688.54 L295.36,688.63 L296.40,688.72 L297.44,688.81 L298.49,688.89 L299.53,688.97 L300.57,689.04 L301.62,689.11 L302.66,689.18 L303.71,689.24 L304.75,689.29 L305.79,689.35 L306.84,689.39 L307.88,689.44 L308.93,689.48 L309.97,689.51 L311.01,689.55 L312.06,689.57 L313.10,689.60 L314.14,689.62 L315.19,689.63 L316.23,689.64 L317.27,689.65 L318.32,689.65 L319.36,689.65 L320.41,689.64 L321.45,689.64 L322.49,689.62 L323.54,689.60 L324.58,689.58 L325.62,689.56 L326.67,689.53 L327.71,689.49 L328.76,689.46 L329.80,689.41 L330.84,689.37 L331.89,689.32 L332.93,689.26 L333.98,689.21 L335.02,689.15 L336.06,689.08 L337.11,689.01 L338.15,688.94 L339.19,688.86 L340.24,688.78 L341.28,688.69 L342.32,688.60 L343.37,688.51 L344.41,688.41 L345.46,688.31 L346.50,688.21 L347.54,688.10 L348.59,687.99 L349.63,687.87 L350.67,687.75 L351.72,687.63 L352.76,687.50 L353.81,687.37 L354.85,687.23 L355.89,687.09 L356.94,686.95 L357.98,686.81 L359.02,686.66 L360.07,686.50 L361.11,686.35 L362.16,686.18 L363.20,686.02 L364.24,685.85 L365.29,685.68 L366.33,685.51 L367.38,685.33 L368.42,685.14 L369.46,684.96 L370.51,684.77 L371.55,684.58 L372.59,684.38 L373.64,684.18 L374.68,683.98 L375.73,683.77 L376.77,683.56 L377.81,683.35 L378.86,683.13 L379.90,682.91 L380.94,682.69 L381.99,682.46 L383.03,682.23 L384.08,682.00 L385.12,681.76 L386.16,681.52 L387.21,681.28 L388.25,681.03 L389.29,680.78 L390.34,680.53 L391.38,680.27 L392.42,680.02 L393.47,679.75 L394.51,679.49 L395.56,679.22 L396.60,678.95 L397.64,678.68 L398.69,678.40 L399.73,678.13 L400.77,677.84 L401.82,677.56 L402.86,677.27 L403.91,676.98 L404.95,676.69 L405.99,676.40 L407.04,676.10 L408.08,675.80 L409.12,675.50 L410.17,675.19 L411.21,674.88 L412.26,674.57 L413.30,674.26 L414.34,673.95 L415.39,673.63 L416.43,673.31 L417.48,672.99 L418.52,672.67 L419.56,672.34 L420.61,672.02 L421.65,671.69 L422.69,671.36 L423.74,671.02 L424.78,670.69 L425.83,670.35 L426.87,670.01 L427.91,669.67 L428.96,669.33 L430.00,668.99 L431.04,668.65 L432.09,668.30 L433.13,667.95 L434.18,667.61 L435.22,667.26 L436.26,666.91 L437.31,666.55 L438.35,666.20 L439.39,665.85 L440.44,665.49 L441.48,665.14 L442.53,664.78 L443.57,664.43 L444.61,664.07 L445.66,663.71 L446.70,663.36 L447.74,663.00 L448.79,662.64 L449.83,662.28 L450.88,661.92 L451.92,661.57 L452.96,661.21 L454.01,660.85 L455.05,660.50 L456.09,660.14 L457.14,659.78 L458.18,659.43 L459.23,659.07 L460.27,658.72 L461.31,658.37 L462.36,658.02 L463.40,657.67 L464.44,657.32 L465.49,656.97 L466.53,656.63 L467.57,656.28 L468.62,655.94 L469.66,655.60 L470.71,655.26 L471.75,654.93 L472.79,654.59 L473.84,654.26 L474.88,653.94 L475.93,653.61 L476.97,653.29 L478.01,652.97 L479.06,652.65 L480.10,652.34 L481.14,652.03 L482.19,651.73 L483.23,651.42 L484.28,651.12 L485.32,650.83 L486.36,650.54 L487.41,650.25 L488.45,649.97 L489.49,649.70 L490.54,649.42 L491.58,649.16 L492.62,648.89 L493.67,648.64 L494.71,648.39 L495.76,648.14 L496.80,647.90 L497.84,647.66 L498.89,647.43 L499.93,647.21 L500.97,646.99 L502.02,646.78 L503.06,646.58 L504.11,646.38 L505.15,646.18 L506.19,646.00 L507.24,645.82 L508.28,645.65 L509.32,645.48 L510.37,645.32 L511.41,645.17 L512.46,645.03 L513.50,644.89 L514.54,644.76 L515.59,644.64 L516.63,644.53 L517.67,644.42 L518.72,644.32 L519.76,644.23 L520.81,644.15 L521.85,644.07 L522.89,644.00 L523.94,643.94 L524.98,643.89 L526.02,643.84 L527.07,643.80 L528.11,643.77 L529.16,643.75 L530.20,643.74 L531.24,643.73 L532.29,643.73 L533.33,643.74 L534.38,643.75 L535.42,643.78 L536.46,643.81 L537.51,643.85 L538.55,643.89 L539.59,643.94 L540.64,644.00 L541.68,644.07 L542.73,644.15 L543.77,644.23 L544.81,644.31 L545.86,644.41 L546.90,644.51 L547.94,644.62 L548.99,644.73 L550.03,644.85 L551.08,644.98 L552.12,645.11 L553.16,645.25 L554.21,645.39 L555.25,645.54 L556.29,645.69 L557.34,645.85 L558.38,646.02 L559.43,646.19 L560.47,646.36 L561.51,646.54 L562.56,646.73 L563.60,646.92 L564.64,647.11 L565.69,647.31 L566.73,647.51 L567.78,647.72 L568.82,647.92 L569.86,648.14 L570.91,648.35 L571.95,648.57 L572.99,648.80 L574.04,649.02 L575.08,649.25 L576.12,649.49 L577.17,649.72 L578.21,649.96 L579.26,650.20 L580.30,650.44 L581.34,650.69 L582.39,650.93 L583.43,651.18 L584.47,651.43 L585.52,651.68 L586.56,651.94 L587.61,652.19 L588.65,652.45 L589.69,652.71 L590.74,652.97 L591.78,653.23 L592.82,653.49 L593.87,653.75 L594.91,654.01 L595.96,654.27 L597.00,654.54 L598.04,654.80 L599.09,655.06 L600.13,655.33 L601.17,655.59 L602.22,655.86 L603.26,656.12 L604.31,656.39 L605.35,656.65 L606.39,656.91 L607.44,657.18 L608.48,657.44 L609.52,657.70 L610.57,657.96 L611.61,658.22 L612.66,658.48 L613.70,658.74 L614.74,659.00 L615.79,659.26 L616.83,659.51 L617.88,659.77 L618.92,660.02 L619.96,660.27 L621.01,660.52 L622.05,660.77 L623.09,661.02 L624.14,661.26 L625.18,661.51 L626.23,661.75 L627.27,661.99 L628.31,662.23 L629.36,662.47 L630.40,662.70 L631.44,662.94 L632.49,663.17 L633.53,663.40 L634.58,663.63 L635.62,663.85 L636.66,664.08 L637.71,664.30 L638.75,664.52 L639.79,664.73 L640.84,664.95 L641.88,665.16 L642.92,665.37 L643.97,665.57 L645.01,665.78 L646.06,665.98 L647.10,666.18 L648.14,666.38 L649.19,666.57 L650.23,666.76 L651.28,666.95 L652.32,667.13 L653.36,667.32 L654.41,667.50 L655.45,667.68 L656.49,667.85 L657.54,668.02 L658.58,668.19 L659.62,668.36 L660.67,668.52 L661.71,668.68 L662.76,668.83 L663.80,668.99 L664.84,669.14 L665.89,669.29 L666.93,669.43 L667.98,669.57 L669.02,669.71 L670.06,669.84 L671.11,669.97 L672.15,670.10 L673.19,670.23 L674.24,670.35 L675.28,670.47 L676.33,670.58 L677.37,670.69 L678.41,670.80 L679.46,670.90 L680.50,671.01 L681.54,671.10 L682.59,671.20 L683.63,671.29 L684.67,671.38 L685.72,671.46 L686.76,671.54 L687.81,671.62 L688.85,671.69 L689.89,671.76 L690.94,671.83 L691.98,671.89 L693.02,671.95 L694.07,672.00 L695.11,672.05 L696.16,672.10 L697.20,672.15 L698.24,672.19 L699.29,672.22 L700.33,672.26 L701.38,672.29 L702.42,672.31 L703.46,672.33 L704.51,672.35 L705.55,672.37 L706.59,672.38 L707.64,672.39 L708.68,672.39 L709.73,672.39 L710.77,672.38 L711.81,672.37 L712.86,672.36 L713.90,672.35 L714.94,672.33 L715.99,672.30 L717.03,672.28 L718.08,672.24 L719.12,672.21 L720.16,672.17 L721.21,672.13 L722.25,672.08 L723.29,672.03 L724.34,671.97 L725.38,671.91 L726.42,671.85 L727.47,671.78 L728.51,671.71 L729.56,671.64 L730.60,671.56 L731.64,671.48 L732.69,671.39 L733.73,671.30 L734.77,671.20 L735.82,671.11 L736.86,671.00 L737.91,670.90 L738.95,670.79 L739.99,670.67 L741.04,670.55 L742.08,670.43 L743.12,670.30 L744.17,670.17 L745.21,670.03 L746.26,669.90 L747.30,669.75 L748.34,669.61 L749.39,669.45 L750.43,669.30 L751.48,669.14 L752.52,668.97 L753.56,668.81 L754.61,668.63 L755.65,668.46 L756.69,668.28 L757.74,668.09 L758.78,667.91 L759.83,667.71 L760.87,667.52 L761.91,667.32 L762.96,667.11 L764.00,666.90 L765.04,666.69 L766.09,666.47 L767.13,666.25 L768.18,666.02 L769.22,665.79 L770.26,665.56 L771.31,665.32 L772.35,665.08 L773.39,664.83 L774.44,664.58 L775.48,664.33 L776.53,664.07 L777.57,663.80 L778.61,663.54 L779.66,663.27 L780.70,662.99 L781.74,662.71 L782.79,662.43 L783.83,662.14 L784.88,661.84 L785.92,661.55 L786.96,661.25 L788.01,660.94 L789.05,660.63 L790.09,660.32 L791.14,660.00 L792.18,659.68 L793.22,659.35 L794.27,659.02 L795.31,658.69 L796.36,658.35 L797.40,658.00 L798.44,657.66 L799.49,657.31 L800.53,656.95 L801.58,656.59 L802.62,656.23 L803.66,655.86 L804.71,655.48 L805.75,655.11 L806.79,654.73 L807.84,654.34 L808.88,653.95 L809.92,653.56 L810.97,653.16 L812.01,652.76 L813.06,652.35 L814.10,651.94 L815.14,651.52 L816.19,651.10 L817.23,650.68 L818.27,650.25 L819.32,649.82 L820.36,649.38 L821.41,648.94 L822.45,648.50 L823.49,648.05 L824.54,647.60 L825.58,647.14 L826.62,646.68 L827.67,646.21 L828.71,645.74 L829.76,645.27 L830.80,644.79 L831.84,644.31 L832.89,643.82 L833.93,643.33 L834.98,642.83 L836.02,642.33 L837.06,641.83 L838.11,641.32 L839.15,640.81 L840.19,640.29 L841.24,639.77 L842.28,639.24 L843.33,638.71 L844.37,638.18 L845.41,637.64 L846.46,637.10 L847.50,636.55 L848.54,636.00 L849.59,635.45 L850.63,634.89 L851.67,634.33 L852.72,633.76 L853.76,633.19 L854.81,632.61 L855.85,632.03 L856.89,631.45 L857.94,630.86 L858.98,630.27 L860.03,629.67 L861.07,629.07 L862.11,628.46 L863.16,627.85 L864.20,627.24 L865.24,626.62 L866.29,626.00 L867.33,625.37 L868.38,624.74 L869.42,624.11 L870.46,623.47 L871.51,622.83 L872.55,622.18 L873.59,621.53 L874.64,620.87 L875.68,620.21 L876.73,619.55 L877.77,618.88 L878.81,618.21 L879.86,617.53 L880.90,616.85 L881.94,616.16 L882.99,615.48 L884.03,614.78 L885.08,614.09 L886.12,613.38 L887.16,612.68 L888.21,611.97 L889.25,611.26 L890.29,610.54 L891.34,609.82 L892.38,609.09 L893.43,608.36 L894.47,607.62 L895.51,606.89 L896.56,606.14 L897.60,605.40 L898.64,604.65 L899.69,603.89 L900.73,603.13 L901.77,602.37 L902.82,601.60 L903.86,600.83 L904.91,600.06 L905.95,599.28 L906.99,598.49 L908.04,597.71 L909.08,596.91 L910.12,596.12 L911.17,595.32 L912.21,594.52 L913.26,593.71 L914.30,592.90 L915.34,592.08 L916.39,591.26 L917.43,590.44 L918.47,589.61 L919.52,588.78 L920.56,587.94 L921.61,587.11 L922.65,586.26 L923.69,585.41 L924.74,584.56 L925.78,583.71 L926.83,582.85 L927.87,581.99 L928.91,581.12 L929.96,580.25 L931.00,579.37" stroke="url(#gLow)" stroke-width="3.6"/>
</g>
<line x1="96" y1="664.6" x2="931" y2="664.6" stroke="#222" stroke-width="1.3"/>
<ellipse cx="316.6" cy="668.4" rx="71" ry="22.5" fill="url(#gBlob)" stroke="none"/>
<g clip-path="url(#plotclip)" fill="none"><path d="M96.00,584.03 L97.04,584.96 L98.09,585.88 L99.13,586.80 L100.18,587.72 L101.22,588.63 L102.26,589.53 L103.31,590.43 L104.35,591.33 L105.39,592.22 L106.44,593.10 L107.48,593.98 L108.53,594.86 L109.57,595.73 L110.61,596.60 L111.66,597.46 L112.70,598.32 L113.74,599.17 L114.79,600.02 L115.83,600.86 L116.88,601.70 L117.92,602.54 L118.96,603.37 L120.01,604.19 L121.05,605.01 L122.09,605.83 L123.14,606.64 L124.18,607.45 L125.23,608.25 L126.27,609.05 L127.31,609.84 L128.36,610.63 L129.40,611.41 L130.44,612.19 L131.49,612.97 L132.53,613.74 L133.57,614.50 L134.62,615.26 L135.66,616.02 L136.71,616.77 L137.75,617.51 L138.79,618.26 L139.84,618.99 L140.88,619.73 L141.93,620.45 L142.97,621.18 L144.01,621.89 L145.06,622.61 L146.10,623.32 L147.14,624.02 L148.19,624.72 L149.23,625.42 L150.27,626.11 L151.32,626.79 L152.36,627.47 L153.41,628.15 L154.45,628.82 L155.49,629.49 L156.54,630.15 L157.58,630.81 L158.62,631.46 L159.67,632.11 L160.71,632.76 L161.76,633.40 L162.80,634.03 L163.84,634.66 L164.89,635.29 L165.93,635.91 L166.98,636.52 L168.02,637.13 L169.06,637.74 L170.11,638.34 L171.15,638.94 L172.19,639.53 L173.24,640.12 L174.28,640.71 L175.32,641.28 L176.37,641.86 L177.41,642.43 L178.46,642.99 L179.50,643.55 L180.54,644.11 L181.59,644.66 L182.63,645.21 L183.68,645.75 L184.72,646.29 L185.76,646.82 L186.81,647.35 L187.85,647.87 L188.89,648.39 L189.94,648.90 L190.98,649.41 L192.02,649.92 L193.07,650.42 L194.11,650.91 L195.16,651.40 L196.20,651.89 L197.24,652.37 L198.29,652.84 L199.33,653.32 L200.38,653.78 L201.42,654.25 L202.46,654.70 L203.51,655.16 L204.55,655.61 L205.59,656.05 L206.64,656.49 L207.68,656.93 L208.73,657.36 L209.77,657.78 L210.81,658.20 L211.86,658.62 L212.90,659.03 L213.94,659.44 L214.99,659.84 L216.03,660.24 L217.07,660.63 L218.12,661.02 L219.16,661.40 L220.21,661.78 L221.25,662.15 L222.29,662.52 L223.34,662.89 L224.38,663.25 L225.43,663.60 L226.47,663.96 L227.51,664.30 L228.56,664.64 L229.60,664.98 L230.64,665.31 L231.69,665.64 L232.73,665.96 L233.78,666.28 L234.82,666.60 L235.86,666.91 L236.91,667.21 L237.95,667.51 L238.99,667.81 L240.04,668.10 L241.08,668.38 L242.13,668.66 L243.17,668.94 L244.21,669.21 L245.26,669.48 L246.30,669.74 L247.34,670.00 L248.39,670.25 L249.43,670.50 L250.48,670.75 L251.52,670.99 L252.56,671.22 L253.61,671.45 L254.65,671.68 L255.69,671.90 L256.74,672.11 L257.78,672.33 L258.83,672.53 L259.87,672.74 L260.91,672.93 L261.96,673.13 L263.00,673.31 L264.04,673.50 L265.09,673.68 L266.13,673.85 L267.18,674.02 L268.22,674.19 L269.26,674.35 L270.31,674.50 L271.35,674.65 L272.39,674.80 L273.44,674.94 L274.48,675.08 L275.52,675.21 L276.57,675.34 L277.61,675.46 L278.66,675.58 L279.70,675.69 L280.74,675.80 L281.79,675.91 L282.83,676.01 L283.88,676.10 L284.92,676.19 L285.96,676.28 L287.01,676.36 L288.05,676.44 L289.09,676.51 L290.14,676.58 L291.18,676.64 L292.23,676.70 L293.27,676.75 L294.31,676.80 L295.36,676.85 L296.40,676.89 L297.44,676.92 L298.49,676.95 L299.53,676.98 L300.57,677.00 L301.62,677.01 L302.66,677.02 L303.71,677.03 L304.75,677.03 L305.79,677.03 L306.84,677.02 L307.88,677.01 L308.93,677.00 L309.97,676.98 L311.01,676.95 L312.06,676.92 L313.10,676.89 L314.14,676.85 L315.19,676.80 L316.23,676.75 L317.27,676.70 L318.32,676.64 L319.36,676.58 L320.41,676.51 L321.45,676.44 L322.49,676.36 L323.54,676.28 L324.58,676.19 L325.62,676.10 L326.67,676.01 L327.71,675.91 L328.76,675.80 L329.80,675.69 L330.84,675.58 L331.89,675.46 L332.93,675.34 L333.98,675.21 L335.02,675.08 L336.06,674.94 L337.11,674.80 L338.15,674.65 L339.19,674.50 L340.24,674.35 L341.28,674.19 L342.32,674.02 L343.37,673.85 L344.41,673.68 L345.46,673.50 L346.50,673.31 L347.54,673.13 L348.59,672.93 L349.63,672.74 L350.67,672.53 L351.72,672.33 L352.76,672.11 L353.81,671.90 L354.85,671.68 L355.89,671.45 L356.94,671.22 L357.98,670.99 L359.02,670.75 L360.07,670.50 L361.11,670.25 L362.16,670.00 L363.20,669.74 L364.24,669.48 L365.29,669.21 L366.33,668.94 L367.38,668.66 L368.42,668.38 L369.46,668.10 L370.51,667.81 L371.55,667.51 L372.59,667.21 L373.64,666.91 L374.68,666.60 L375.73,666.28 L376.77,665.96 L377.81,665.64 L378.86,665.31 L379.90,664.98 L380.94,664.64 L381.99,664.30 L383.03,663.96 L384.08,663.60 L385.12,663.25 L386.16,662.89 L387.21,662.52 L388.25,662.15 L389.29,661.78 L390.34,661.40 L391.38,661.02 L392.42,660.63 L393.47,660.24 L394.51,659.84 L395.56,659.44 L396.60,659.03 L397.64,658.62 L398.69,658.20 L399.73,657.78 L400.77,657.36 L401.82,656.93 L402.86,656.49 L403.91,656.05 L404.95,655.61 L405.99,655.16 L407.04,654.70 L408.08,654.25 L409.12,653.78 L410.17,653.32 L411.21,652.84 L412.26,652.37 L413.30,651.89 L414.34,651.40 L415.39,650.91 L416.43,650.42 L417.48,649.92 L418.52,649.41 L419.56,648.90 L420.61,648.39 L421.65,647.87 L422.69,647.35 L423.74,646.82 L424.78,646.29 L425.83,645.75 L426.87,645.21 L427.91,644.66 L428.96,644.11 L430.00,643.55 L431.04,642.99 L432.09,642.43 L433.13,641.86 L434.18,641.28 L435.22,640.71 L436.26,640.12 L437.31,639.53 L438.35,638.94 L439.39,638.34 L440.44,637.74 L441.48,637.13 L442.53,636.52 L443.57,635.91 L444.61,635.29 L445.66,634.66 L446.70,634.03 L447.74,633.40 L448.79,632.76 L449.83,632.11 L450.88,631.46 L451.92,630.81 L452.96,630.15 L454.01,629.49 L455.05,628.82 L456.09,628.15 L457.14,627.47 L458.18,626.79 L459.23,626.11 L460.27,625.42 L461.31,624.72 L462.36,624.02 L463.40,623.32 L464.44,622.61 L465.49,621.89 L466.53,621.18 L467.57,620.45 L468.62,619.73 L469.66,618.99 L470.71,618.26 L471.75,617.51 L472.79,616.77 L473.84,616.02 L474.88,615.26 L475.93,614.50 L476.97,613.74 L478.01,612.97 L479.06,612.19 L480.10,611.41 L481.14,610.63 L482.19,609.84 L483.23,609.05 L484.28,608.25 L485.32,607.45 L486.36,606.64 L487.41,605.83 L488.45,605.01 L489.49,604.19 L490.54,603.37 L491.58,602.54 L492.62,601.70 L493.67,600.86 L494.71,600.02 L495.76,599.17 L496.80,598.32 L497.84,597.46 L498.89,596.60 L499.93,595.73 L500.97,594.86 L502.02,593.98 L503.06,593.10 L504.11,592.22 L505.15,591.33 L506.19,590.43 L507.24,589.53 L508.28,588.63 L509.32,587.72 L510.37,586.80 L511.41,585.88 L512.46,584.96 L513.50,584.03 L514.54,583.10 L515.59,582.16 L516.63,581.22 L517.67,580.28 L518.72,579.33 L519.76,578.37 L520.81,577.41 L521.85,576.45 L522.89,575.48 L523.94,574.50 L524.98,573.52 L526.02,572.54 L527.07,571.55 L528.11,570.56 L529.16,569.56 L530.20,568.56 L531.24,567.55 L532.29,566.54 L533.33,565.52 L534.38,564.50 L535.42,563.48 L536.46,562.45 L537.51,561.41 L538.55,560.37 L539.59,559.33 L540.64,558.28 L541.68,557.23 L542.73,556.17 L543.77,555.11 L544.81,554.04 L545.86,552.97 L546.90,551.89 L547.94,550.81 L548.99,549.73 L550.03,548.64 L551.08,547.54 L552.12,546.44 L553.16,545.34 L554.21,544.23 L555.25,543.11 L556.29,542.00 L557.34,540.87 L558.38,539.75 L559.43,538.61 L560.47,537.48 L561.51,536.33 L562.56,535.19 L563.60,534.04 L564.64,532.88 L565.69,531.72 L566.73,530.56 L567.78,529.39 L568.82,528.21 L569.86,527.03 L570.91,525.85 L571.95,524.66 L572.99,523.47 L574.04,522.27 L575.08,521.07 L576.12,519.86 L577.17,518.65 L578.21,517.44 L579.26,516.22 L580.30,514.99 L581.34,513.76 L582.39,512.53 L583.43,511.29 L584.47,510.04 L585.52,508.79 L586.56,507.54 L587.61,506.28 L588.65,505.02 L589.69,503.75 L590.74,502.48 L591.78,501.21 L592.82,499.92 L593.87,498.64 L594.91,497.35 L595.96,496.05 L597.00,494.75 L598.04,493.45 L599.09,492.14 L600.13,490.83 L601.17,489.51 L602.22,488.19 L603.26,486.86 L604.31,485.53 L605.35,484.19 L606.39,482.85 L607.44,481.50 L608.48,480.15 L609.52,478.80 L610.57,477.44 L611.61,476.07 L612.66,474.70 L613.70,473.33 L614.74,471.95 L615.79,470.56 L616.83,469.18 L617.88,467.78 L618.92,466.39 L619.96,464.98 L621.01,463.58 L622.05,462.17 L623.09,460.75 L624.14,459.33 L625.18,457.91 L626.23,456.48 L627.27,455.04 L628.31,453.60 L629.36,452.16 L630.40,450.71 L631.44,449.26 L632.49,447.80 L633.53,446.34 L634.58,444.87 L635.62,443.40 L636.66,441.92 L637.71,440.44 L638.75,438.95 L639.79,437.46 L640.84,435.97 L641.88,434.47 L642.92,432.96 L643.97,431.46 L645.01,429.94 L646.06,428.42 L647.10,426.90 L648.14,425.37 L649.19,423.84" stroke="#cccccc" stroke-width="3.6" opacity="0.22"/></g>
<line x1="513.6" y1="484" x2="513.6" y2="711" stroke="#222" stroke-width="1.5"/>
<!-- legend background -->
<rect x="280" y="433" width="465" height="51" fill="#fff"/>
<rect x="96.2" y="432" width="834.8" height="279" fill="none" stroke="#6e6e6e" stroke-width="2"/>
<g stroke="#777" stroke-width="1">
<line x1="96" y1="571.6" x2="103.5" y2="571.6"/>
<line x1="96" y1="478.6" x2="103.5" y2="478.6"/>
<line x1="304.75" y1="711" x2="304.75" y2="703"/>
<line x1="722.25" y1="711" x2="722.25" y2="703"/>
</g>
<rect x="325.2" y="463.7" width="371.8" height="20" fill="url(#gBar)"/>
<text x="509.5" y="454.3" font-size="25" text-anchor="middle">Spin composition</text>
<g fill="none" stroke="#000" stroke-width="1.8" stroke-linecap="butt" stroke-linejoin="miter">
<path d="M287.1,458.6 V487.2"/>
<path d="M300.3,460.5 V484.9 M293.2,466.4 L300.3,460.2 L307.6,466.4"/>
<path d="M310.5,460.4 L317.2,473.4 L310.5,486.4"/>
<path d="M707,457 V485.7"/>
<path d="M720,458 V482.5 M713.1,476.7 L720,482.8 L727.1,476.7"/>
<path d="M730.2,458.7 L737,472.3 L730.2,485.1"/>
</g>
<g font-size="30">
<path d="M78.6,560.3 V580.5 H75.8 V565.7 C74.6,565.8 72.8,565.9 70.8,565.9 V564.0 C73.3,563.9 75.2,562.7 76.0,560.3 Z M316.0,724.1 V744.5 H313.2 V729.5 C312.0,729.6 310.2,729.7 308.2,729.7 V727.8 C310.7,727.7 312.6,726.5 313.4,724.1 Z M724.8,724.0 V744.5 H722.0 V729.4 C720.8,729.5 719.0,729.6 717.0,729.6 V727.7 C719.5,727.6 721.4,726.4 722.2,724.0 Z" fill="#000"/>
<rect x="80.1" y="735" width="16.8" height="2.5" fill="#000"/>
<rect x="289" y="735" width="16" height="2.5" fill="#000"/>
<text x="96.6" y="744.5" font-size="30">2</text>
<text x="84" y="487.9" text-anchor="end">2</text>
<text x="84" y="673.9" text-anchor="end">0</text>
<text x="513.6" y="744.5" text-anchor="middle">0</text>
<text x="931" y="744.5" text-anchor="middle">2</text>
<text x="481" y="785.7"><tspan class="it">q</tspan> (<tspan class="it">k</tspan><tspan font-size="20" dy="7.5">r</tspan><tspan dy="-7.5">)</tspan></text>
<text transform="translate(40.8,598) rotate(-90)"><tspan class="it">E</tspan>/<tspan class="it">E</tspan><tspan font-size="20" dy="7.5">r</tspan></text>
</g>
</g>
</svg>
</body></html>
